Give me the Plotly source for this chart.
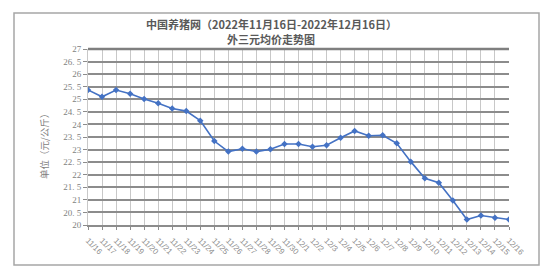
import plotly.graph_objects as go

dates = ["11/16", "11/17", "11/18", "11/19", "11/20", "11/21", "11/22", "11/23",
         "11/24", "11/25", "11/26", "11/27", "11/28", "11/29", "11/30",
         "12/1", "12/2", "12/3", "12/4", "12/5", "12/6", "12/7", "12/8",
         "12/9", "12/10", "12/11", "12/12", "12/13", "12/14", "12/15", "12/16"]
prices = [25.37, 25.10, 25.37, 25.22, 25.01, 24.84, 24.63, 24.53, 24.15, 23.34,
          22.92, 23.03, 22.92, 23.01, 23.22, 23.22, 23.11, 23.17, 23.47, 23.74,
          23.55, 23.57, 23.25, 22.52, 21.86, 21.68, 20.97, 20.22, 20.38, 20.29, 20.22]
y_ticks = [20 + 0.5 * i for i in range(15)]
y_ticktext = [("%g" % v).replace(".", ". ") for v in y_ticks]

title1 = "中国养猪网（2022年11月16日-2022年12月16日）"
title2 = "外三元均价走势图"
y_title = "单位（元/公斤）"

W, H = 554, 277
L, R, T, B = 88, 45, 49, 52
pw, ph = W - L - R, H - T - B

def px(x):
    return (x - L) / pw

def py(y):
    return (H - B - y) / ph

font_cjk = "Noto Sans CJK SC"
gray = "#595959"

fig = go.Figure()
fig.add_trace(go.Scatter(
    x=list(range(len(dates))), y=prices, mode="lines+markers",
    line=dict(color="#4472C4", width=1.6),
    marker=dict(symbol="diamond", size=5, color="#4472C4"),
    showlegend=False, hoverinfo="skip"))

fig.update_layout(
    width=W, height=H,
    margin=dict(l=L, r=R, t=T, b=B),
    paper_bgcolor="white", plot_bgcolor="white",
    xaxis=dict(
        range=[0, len(dates) - 1], tickvals=list(range(len(dates))), ticktext=dates,
        tickangle=45, tickfont=dict(size=8, color="#8c8c8c", family="Liberation Sans"),
        ticklabelstandoff=3,
        showgrid=True, gridcolor="#c8c8c8", gridwidth=1,
        showline=True, linecolor="#8c8c8c", linewidth=1.5,
        ticks="outside", ticklen=3, tickcolor="#8c8c8c", zeroline=False, fixedrange=True),
    yaxis=dict(
        range=[20, 27], tickvals=y_ticks, ticktext=y_ticktext,
        tickfont=dict(size=9, color="#7f7f7f", family="Liberation Serif"),
        showgrid=True, gridcolor="#8c8c8c", gridwidth=1.5,
        ticks="outside", ticklen=4, tickcolor="#8c8c8c",
        showline=True, linecolor="#c8c8c8", linewidth=1, zeroline=False, fixedrange=True),
    shapes=[dict(type="rect", xref="paper", yref="paper",
                 x0=px(14), x1=px(539), y0=py(265), y1=py(13),
                 line=dict(color="#a6a6a6", width=1.5), layer="below"),
            dict(type="line", xref="paper", yref="paper",
                 x0=0, x1=1, y0=1, y1=1, line=dict(color="#7f7f7f", width=2.5))],
    annotations=[
        dict(text="<b>" + title1 + "</b>", xref="paper", yref="paper", x=px(271), y=py(24),
             showarrow=False, xanchor="center", yanchor="middle",
             font=dict(size=11, color=gray, family=font_cjk)),
        dict(text="<b>" + title2 + "</b>", xref="paper", yref="paper", x=px(271), y=py(38.5),
             showarrow=False, xanchor="center", yanchor="middle",
             font=dict(size=11, color=gray, family=font_cjk)),
        dict(text=y_title, xref="paper", yref="paper", x=px(44), y=py(144),
             showarrow=False, xanchor="center", yanchor="middle", textangle=-90,
             font=dict(size=9.5, color="#7f7f7f", family=font_cjk)),
    ],
)

fig.write_html("out.html")
